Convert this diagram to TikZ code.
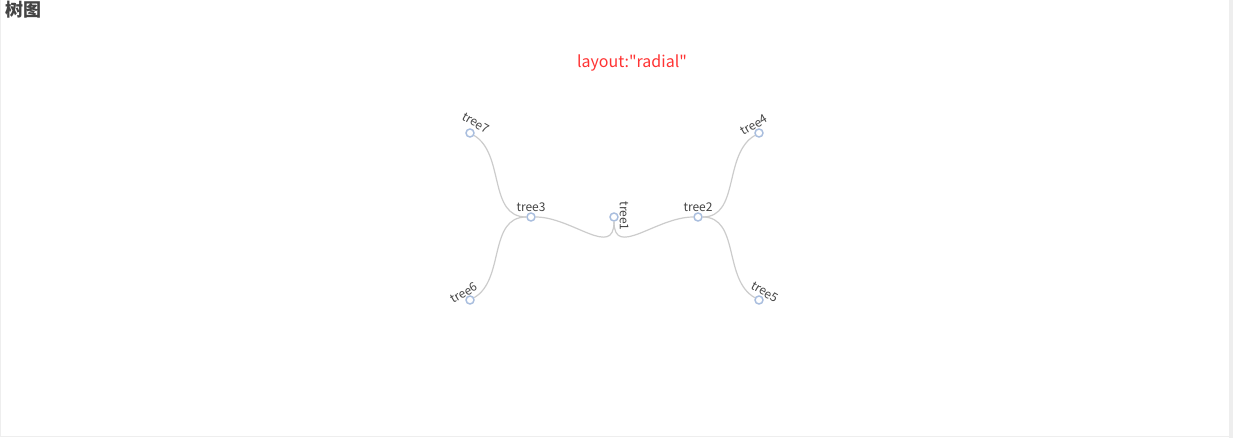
\documentclass[tikz,border=0pt]{standalone}
\usepackage{fontspec}
\setmainfont{Noto Sans CJK SC}[Ligatures=TeXOff]
\definecolor{edgegray}{HTML}{CCCCCC}
\definecolor{nodeblue}{HTML}{A9BEDE}
\definecolor{labelgray}{HTML}{444444}
\definecolor{titlered}{HTML}{FF3333}
\definecolor{framegray}{HTML}{EEEEEE}
\begin{document}
\begin{tikzpicture}[x=0.75pt,y=-0.75pt,
    treenode/.style={circle,draw=nodeblue,line width=1.1pt,fill=white,minimum size=6pt,inner sep=0pt},
    treeedge/.style={edgegray,line width=0.9pt},
    treelabel/.style={labelgray,font=\fontsize{9}{10}\selectfont,inner sep=0pt}]
        \useasboundingbox (0,0) rectangle (1233,438);
        \fill[white] (0,0) rectangle (1233,438);
        % frame
        \fill[framegray] (1229,0) rectangle (1233,438);
        \draw[framegray,line width=0.75pt] (0.5,0) -- (0.5,436.5) -- (1229,436.5);
        \node[anchor=west,font=\fontsize{13.5}{15}\selectfont\bfseries,text=labelgray,inner sep=0pt] (title) at (5,10) {树图};
        \node[titlered,font=\fontsize{12}{14}\selectfont,inner sep=0pt] (layout) at (632,63) {layout:"radial"};
        % tree nodes
        \node[treenode] (t1) at (614,217) {};
        \node[treenode] (t2) at (698,217) {};
        \node[treenode] (t3) at (531,217) {};
        \node[treenode] (t4) at (759,133) {};
        \node[treenode] (t5) at (759,300) {};
        \node[treenode] (t6) at (470,300) {};
        \node[treenode] (t7) at (470,133) {};
        % edges
        \draw[treeedge] (t1) .. controls (614,259) and (656,217) .. (t2);
        \draw[treeedge] (t1) .. controls (614,259) and (572,217) .. (t3);
        \draw[treeedge] (t2) .. controls (740,217) and (723,154) .. (t4);
        \draw[treeedge] (t2) .. controls (740,217) and (723,280) .. (t5);
        \draw[treeedge] (t3) .. controls (488,217) and (505,280) .. (t6);
        \draw[treeedge] (t3) .. controls (488,217) and (505,154) .. (t7);
        % labels
        \node[treelabel,rotate=-90] (l1) at (624,216) {tree1};
        \node[treelabel] (l2) at (698,207) {tree2};
        \node[treelabel] (l3) at (531,207) {tree3};
        \node[treelabel,rotate=30] (l4) at (754,125) {tree4};
        \node[treelabel,rotate=-30] (l5) at (765,292) {tree5};
        \node[treelabel,rotate=30] (l6) at (464,293) {tree6};
        \node[treelabel,rotate=-30] (l7) at (476,123) {tree7};
    \end{tikzpicture}
\end{document}
